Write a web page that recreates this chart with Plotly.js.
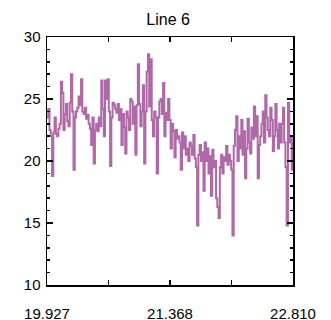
<!DOCTYPE html>
<html><head><meta charset="utf-8">
<script src="https://cdn.plot.ly/plotly-3.0.1.min.js"></script>
<style>html,body{margin:0;padding:0;background:#fff}#chart{width:331px;height:320px}</style>
</head><body><div id="chart"></div>
<script>
const title = "Line 6";
const xStart = 19.927;
const xEnd = 22.810;
const xTickVals = [19.927, 21.3685, 22.810];
const xTickText = ["19.927", "21.368", "22.810"];
const yTickVals = [10, 15, 20, 25, 30];
const yValues = [
  23.5, 24.2, 22.5, 22.0, 18.8, 22.3, 23.5, 22.2,
  22.0, 22.6, 23.0, 26.4, 25.5, 22.5, 23.8, 24.6,
  23.2, 22.8, 24.7, 27.0, 24.0, 19.3, 23.5, 24.0,
  24.3, 25.2, 24.5, 26.6, 24.0, 23.8, 24.3, 23.4,
  23.7, 23.0, 22.6, 21.3, 23.5, 19.8, 22.5, 23.0,
  22.4, 23.5, 22.8, 26.5, 24.2, 22.0, 26.5, 25.0,
  26.6, 24.0, 19.6, 23.5, 24.7, 24.5, 24.2, 23.9,
  24.6, 23.3, 24.2, 21.3, 23.8, 22.7, 20.6, 24.0,
  23.5, 22.5, 25.0, 24.8, 23.0, 24.4, 20.5, 24.5,
  27.8, 24.6, 22.8, 24.0, 26.1, 19.8, 24.0, 27.2,
  28.6, 24.4, 28.2, 23.3, 22.0, 24.0, 23.5, 19.0,
  23.5, 24.8, 25.0, 23.8, 26.3, 22.0, 23.9, 23.3,
  25.0, 23.3, 21.0, 23.0, 22.4, 20.3, 22.5, 21.8,
  22.0, 21.5, 19.3, 22.3, 21.0, 22.0, 20.5, 21.0,
  20.0, 21.5, 21.2, 20.5, 22.1, 20.2, 19.5, 14.8,
  20.5, 21.3, 20.0, 20.7, 17.6, 21.5, 20.0, 21.0,
  19.0, 20.4, 17.2, 20.9, 19.5, 20.0, 17.0, 16.3,
  15.4, 19.5, 20.5, 19.0, 20.3, 20.0, 21.2, 19.7,
  20.5, 20.0, 19.3, 14.0, 21.2, 22.5, 23.6, 20.0,
  22.0, 21.0, 23.3, 20.5, 22.4, 18.6, 21.0, 23.4,
  21.5, 20.6, 22.7, 21.8, 24.4, 22.0, 23.6, 18.6,
  21.3, 22.0, 23.0, 24.0, 21.5, 25.3, 23.5, 22.5,
  22.0, 24.3, 23.3, 20.8, 22.0, 24.6, 22.5, 21.0,
  23.0, 21.5, 23.0, 24.3, 21.5, 19.5, 14.8, 24.7,
  21.5, 22.0, 19.3, 21.5
];
const lineColor = "rgb(176,104,168)";

const n = yValues.length;
const dx = (xEnd - xStart) / (n - 1);
const xValues = yValues.map((_, i) => xStart + i * dx);

const font = {family: "Liberation Sans, Arial, sans-serif", size: 15, color: "#000"};

Plotly.newPlot("chart", [{
  x: xValues, y: yValues, type: "scatter", mode: "lines",
  line: {color: lineColor, width: 2, shape: "hv"},
  hoverinfo: "skip"
}], {
  width: 331, height: 320,
  margin: {l: 47, r: 38, t: 37, b: 35},
  paper_bgcolor: "#fff", plot_bgcolor: "#fff",
  showlegend: false,
  font: font,
  title: {text: title, font: {family: font.family, size: 16, color: "#000"}, x: 0.508, xanchor: "center", y: 0.94, yanchor: "middle"},
  xaxis: {
    range: [xStart, xEnd], showgrid: false, zeroline: false,
    showline: true, linecolor: "#000", linewidth: 1.5, mirror: "ticks",
    tickmode: "array", tickvals: xTickVals, ticktext: xTickText,
    ticks: "inside", ticklen: 5, tickwidth: 1.5, tickcolor: "#000",
    tickfont: font, ticklabelstandoff: 14,
    minor: {tickmode: "linear", tick0: xStart, dtick: (xEnd - xStart) / 4, ticks: "inside", ticklen: 5, tickwidth: 1.5, tickcolor: "#000", showgrid: false}
  },
  yaxis: {
    range: [10, 30], showgrid: false, zeroline: false,
    showline: true, linecolor: "#000", linewidth: 1.5, mirror: "ticks",
    tickmode: "array", tickvals: yTickVals,
    ticks: "inside", ticklen: 6, tickwidth: 1.5, tickcolor: "#000",
    tickfont: font, ticklabelstandoff: 2,
    minor: {tickmode: "linear", tick0: 10, dtick: 1, ticks: "inside", ticklen: 3, tickwidth: 1.5, tickcolor: "#000", showgrid: false}
  }
}, {displayModeBar: false, staticPlot: true});
</script>
</body></html>
